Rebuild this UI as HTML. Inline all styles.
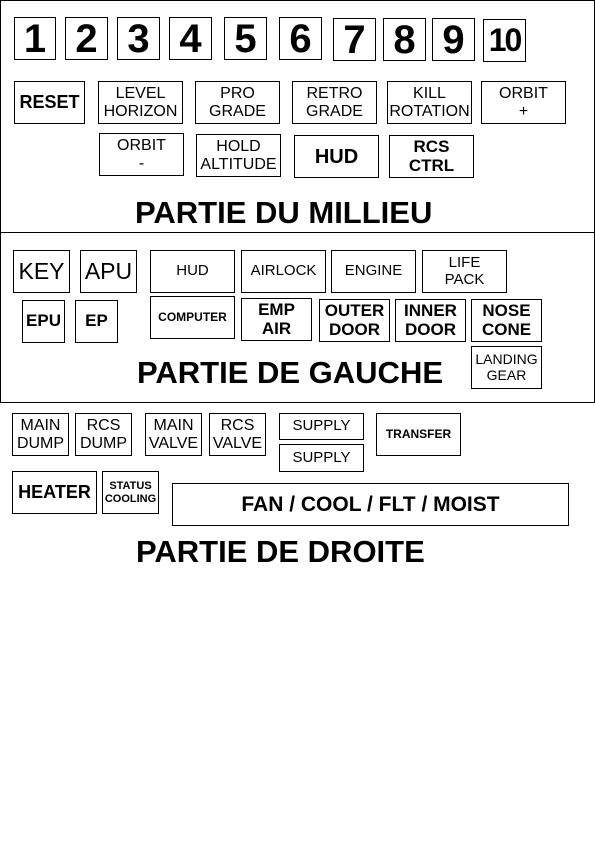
<!DOCTYPE html>
<html><head><meta charset="utf-8"><style>
body{margin:0;width:595px;height:842px;background:#fff;position:relative;overflow:hidden;font-family:"Liberation Sans",Arial,sans-serif;color:#000}
.b{position:absolute;border:1px solid #000;box-sizing:border-box;display:flex;align-items:center;justify-content:center;text-align:center;line-height:1.1;font-size:16px;white-space:nowrap}
.n{font-weight:bold;font-size:40px}
.bd{font-weight:bold}
.t{position:absolute;font-weight:bold;font-size:31px;white-space:nowrap;line-height:1}
.sec{position:absolute;border:1px solid #000;box-sizing:border-box}
</style></head><body>
<div class="sec" style="left:0;top:0;width:595px;height:233px"></div>
<div class="sec" style="left:0;top:232px;width:595px;height:171px"></div>

<div class="b n" style="left:14px;top:17px;width:42px;height:43px">1</div>
<div class="b n" style="left:65px;top:17px;width:43px;height:43px">2</div>
<div class="b n" style="left:117px;top:17px;width:43px;height:43px">3</div>
<div class="b n" style="left:169px;top:17px;width:43px;height:43px">4</div>
<div class="b n" style="left:224px;top:17px;width:43px;height:43px">5</div>
<div class="b n" style="left:279px;top:17px;width:43px;height:43px">6</div>
<div class="b n" style="left:333px;top:18px;width:43px;height:43px">7</div>
<div class="b n" style="left:383px;top:18px;width:43px;height:43px">8</div>
<div class="b n" style="left:432px;top:18px;width:43px;height:43px">9</div>
<div class="b n" style="left:483px;top:19px;width:43px;height:43px;font-size:32px;letter-spacing:-2px">10</div>

<div class="b bd" style="left:14px;top:81px;width:71px;height:43px;font-size:18px">RESET</div>
<div class="b" style="left:98px;top:81px;width:85px;height:43px">LEVEL<br>HORIZON</div>
<div class="b" style="left:195px;top:81px;width:85px;height:43px">PRO<br>GRADE</div>
<div class="b" style="left:292px;top:81px;width:85px;height:43px">RETRO<br>GRADE</div>
<div class="b" style="left:387px;top:81px;width:85px;height:43px">KILL<br>ROTATION</div>
<div class="b" style="left:481px;top:81px;width:85px;height:43px">ORBIT<br>+</div>

<div class="b" style="left:99px;top:133px;width:85px;height:43px">ORBIT<br>-</div>
<div class="b" style="left:196px;top:134px;width:85px;height:43px">HOLD<br>ALTITUDE</div>
<div class="b bd" style="left:294px;top:135px;width:85px;height:43px;font-size:20px">HUD</div>
<div class="b bd" style="left:389px;top:135px;width:85px;height:43px;font-size:17px">RCS<br>CTRL</div>
<div class="t" style="left:135px;top:197px">PARTIE DU MILLIEU</div>

<div class="b" style="left:13px;top:250px;width:57px;height:43px;font-size:23px">KEY</div>
<div class="b" style="left:80px;top:250px;width:57px;height:43px;font-size:23px">APU</div>
<div class="b bd" style="left:22px;top:300px;width:43px;height:43px;font-size:17px">EPU</div>
<div class="b bd" style="left:75px;top:300px;width:43px;height:43px;font-size:17px">EP</div>
<div class="b" style="left:150px;top:250px;width:85px;height:43px;font-size:15px">HUD</div>
<div class="b" style="left:241px;top:250px;width:85px;height:43px;font-size:15px">AIRLOCK</div>
<div class="b" style="left:331px;top:250px;width:85px;height:43px;font-size:15px">ENGINE</div>
<div class="b" style="left:422px;top:250px;width:85px;height:43px;font-size:15px">LIFE<br>PACK</div>
<div class="b bd" style="left:150px;top:296px;width:85px;height:43px;font-size:12px">COMPUTER</div>
<div class="b bd" style="left:241px;top:298px;width:71px;height:43px;font-size:17px">EMP<br>AIR</div>
<div class="b bd" style="left:319px;top:299px;width:71px;height:43px;font-size:17px">OUTER<br>DOOR</div>
<div class="b bd" style="left:395px;top:299px;width:71px;height:43px;font-size:17px">INNER<br>DOOR</div>
<div class="b bd" style="left:471px;top:299px;width:71px;height:43px;font-size:17px">NOSE<br>CONE</div>
<div class="b" style="left:471px;top:346px;width:71px;height:43px;font-size:14px">LANDING<br>GEAR</div>
<div class="t" style="left:137px;top:357px">PARTIE DE GAUCHE</div>

<div class="b" style="left:12px;top:413px;width:57px;height:43px">MAIN<br>DUMP</div>
<div class="b" style="left:75px;top:413px;width:57px;height:43px">RCS<br>DUMP</div>
<div class="b" style="left:145px;top:413px;width:57px;height:43px">MAIN<br>VALVE</div>
<div class="b" style="left:209px;top:413px;width:57px;height:43px">RCS<br>VALVE</div>
<div class="b" style="left:279px;top:413px;width:85px;height:27px;font-size:15px">SUPPLY</div>
<div class="b" style="left:279px;top:444px;width:85px;height:28px;font-size:15px">SUPPLY</div>
<div class="b bd" style="left:376px;top:413px;width:85px;height:43px;font-size:12px">TRANSFER</div>
<div class="b bd" style="left:12px;top:471px;width:85px;height:43px;font-size:18px">HEATER</div>
<div class="b bd" style="left:102px;top:471px;width:57px;height:43px;font-size:11px">STATUS<br>COOLING</div>
<div class="b bd" style="left:172px;top:483px;width:397px;height:43px;font-size:21px">FAN / COOL / FLT / MOIST</div>
<div class="t" style="left:136px;top:536px">PARTIE DE DROITE</div>
</body></html>
